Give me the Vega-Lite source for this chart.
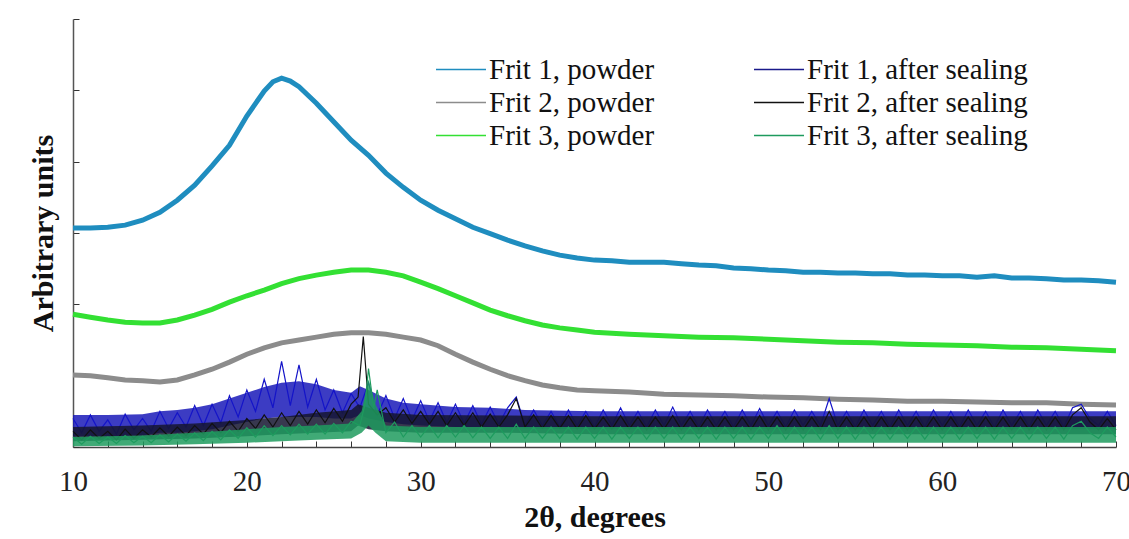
{
"$schema":"https://vega.github.io/schema/vega-lite/v6.json",
"width":1043,"height":428,
"autosize":{"type":"none"},
"padding":{"left":73,"top":19,"right":13,"bottom":92},
"background":"white",
"config":{"view":{"stroke":null},"font":"Liberation Serif",
"legend":{"orient":"none","legendX":362,"legendY":35,"columns":2,"symbolType":"stroke","symbolSize":2500,"symbolStrokeWidth":1.5,"labelFont":"Liberation Serif","labelFontSize":29,"labelColor":"#111","labelOffset":2,"columnPadding":98,"rowPadding":2,"clipHeight":31,"labelLimit":500,"title":null}},
"datasets":{
"f1p":[{"x":10,"y":3.07},{"x":11,"y":3.07},{"x":12,"y":3.08},{"x":13,"y":3.11},{"x":14,"y":3.18},{"x":15,"y":3.29},{"x":16,"y":3.46},{"x":17,"y":3.67},{"x":18,"y":3.94},{"x":19,"y":4.23},{"x":20,"y":4.64},{"x":21,"y":4.99},{"x":21.5,"y":5.12},{"x":22,"y":5.17},{"x":22.5,"y":5.13},{"x":23,"y":5.05},{"x":24,"y":4.82},{"x":25,"y":4.56},{"x":26,"y":4.3},{"x":27,"y":4.09},{"x":28,"y":3.84},{"x":29,"y":3.64},{"x":30,"y":3.46},{"x":31,"y":3.32},{"x":32,"y":3.2},{"x":33,"y":3.08},{"x":34,"y":2.99},{"x":35,"y":2.9},{"x":36,"y":2.82},{"x":37,"y":2.75},{"x":38,"y":2.69},{"x":39,"y":2.65},{"x":40,"y":2.62},{"x":41,"y":2.61},{"x":42,"y":2.59},{"x":43,"y":2.59},{"x":44,"y":2.59},{"x":45,"y":2.57},{"x":46,"y":2.55},{"x":47,"y":2.54},{"x":48,"y":2.51},{"x":49,"y":2.5},{"x":50,"y":2.48},{"x":51,"y":2.47},{"x":52,"y":2.45},{"x":53,"y":2.45},{"x":54,"y":2.44},{"x":55,"y":2.44},{"x":56,"y":2.43},{"x":57,"y":2.43},{"x":58,"y":2.41},{"x":59,"y":2.41},{"x":60,"y":2.4},{"x":61,"y":2.4},{"x":62,"y":2.38},{"x":63,"y":2.4},{"x":64,"y":2.37},{"x":65,"y":2.37},{"x":66,"y":2.36},{"x":67,"y":2.34},{"x":68,"y":2.34},{"x":69,"y":2.33},{"x":70,"y":2.31}],
"f2p":[{"x":10,"y":1.01},{"x":11,"y":1.0},{"x":12,"y":0.97},{"x":13,"y":0.94},{"x":14,"y":0.93},{"x":15,"y":0.91},{"x":16,"y":0.94},{"x":17,"y":1.01},{"x":18,"y":1.09},{"x":19,"y":1.19},{"x":20,"y":1.3},{"x":21,"y":1.39},{"x":22,"y":1.46},{"x":23,"y":1.5},{"x":24,"y":1.54},{"x":25,"y":1.58},{"x":26,"y":1.6},{"x":27,"y":1.6},{"x":28,"y":1.58},{"x":29,"y":1.54},{"x":30,"y":1.5},{"x":31,"y":1.42},{"x":32,"y":1.3},{"x":33,"y":1.19},{"x":34,"y":1.09},{"x":35,"y":1.0},{"x":36,"y":0.93},{"x":37,"y":0.87},{"x":38,"y":0.83},{"x":39,"y":0.8},{"x":40,"y":0.79},{"x":42,"y":0.77},{"x":44,"y":0.74},{"x":46,"y":0.73},{"x":48,"y":0.72},{"x":50,"y":0.7},{"x":52,"y":0.69},{"x":54,"y":0.67},{"x":56,"y":0.66},{"x":58,"y":0.64},{"x":60,"y":0.64},{"x":62,"y":0.63},{"x":64,"y":0.62},{"x":66,"y":0.62},{"x":68,"y":0.6},{"x":70,"y":0.59}],
"f3p":[{"x":10,"y":1.86},{"x":11,"y":1.82},{"x":12,"y":1.78},{"x":13,"y":1.75},{"x":14,"y":1.74},{"x":15,"y":1.74},{"x":16,"y":1.78},{"x":17,"y":1.85},{"x":18,"y":1.93},{"x":19,"y":2.03},{"x":20,"y":2.12},{"x":21,"y":2.2},{"x":22,"y":2.29},{"x":23,"y":2.36},{"x":24,"y":2.41},{"x":25,"y":2.45},{"x":26,"y":2.48},{"x":27,"y":2.48},{"x":28,"y":2.45},{"x":29,"y":2.4},{"x":30,"y":2.31},{"x":31,"y":2.22},{"x":32,"y":2.12},{"x":33,"y":2.02},{"x":34,"y":1.92},{"x":35,"y":1.84},{"x":36,"y":1.77},{"x":37,"y":1.71},{"x":38,"y":1.67},{"x":39,"y":1.64},{"x":40,"y":1.61},{"x":42,"y":1.58},{"x":44,"y":1.56},{"x":46,"y":1.54},{"x":48,"y":1.53},{"x":50,"y":1.51},{"x":52,"y":1.49},{"x":54,"y":1.47},{"x":56,"y":1.46},{"x":58,"y":1.44},{"x":60,"y":1.43},{"x":62,"y":1.42},{"x":64,"y":1.4},{"x":66,"y":1.39},{"x":68,"y":1.37},{"x":70,"y":1.35}],
"b1":[{"x":10,"lo":0.15,"hi":0.45},{"x":12,"lo":0.15,"hi":0.45},{"x":14,"lo":0.16,"hi":0.46},{"x":15,"lo":0.2,"hi":0.5},{"x":16,"lo":0.2,"hi":0.52},{"x":17,"lo":0.22,"hi":0.55},{"x":18,"lo":0.25,"hi":0.6},{"x":19,"lo":0.3,"hi":0.68},{"x":20,"lo":0.35,"hi":0.76},{"x":21,"lo":0.4,"hi":0.84},{"x":22,"lo":0.42,"hi":0.9},{"x":23,"lo":0.42,"hi":0.92},{"x":24,"lo":0.42,"hi":0.88},{"x":25,"lo":0.4,"hi":0.8},{"x":26,"lo":0.4,"hi":0.76},{"x":26.5,"lo":0.45,"hi":0.85},{"x":27,"lo":0.4,"hi":0.8},{"x":28,"lo":0.35,"hi":0.68},{"x":29,"lo":0.32,"hi":0.62},{"x":30,"lo":0.3,"hi":0.6},{"x":32,"lo":0.28,"hi":0.56},{"x":34,"lo":0.28,"hi":0.55},{"x":36,"lo":0.26,"hi":0.52},{"x":40,"lo":0.25,"hi":0.5},{"x":50,"lo":0.25,"hi":0.5},{"x":60,"lo":0.25,"hi":0.5},{"x":70,"lo":0.25,"hi":0.5}],
"b2":[{"x":10,"lo":0.08,"hi":0.28},{"x":14,"lo":0.1,"hi":0.3},{"x":17,"lo":0.12,"hi":0.33},{"x":20,"lo":0.15,"hi":0.38},{"x":22,"lo":0.18,"hi":0.42},{"x":24,"lo":0.2,"hi":0.48},{"x":26,"lo":0.22,"hi":0.52},{"x":26.4,"lo":0.3,"hi":0.6},{"x":27,"lo":0.25,"hi":0.55},{"x":28,"lo":0.22,"hi":0.48},{"x":30,"lo":0.2,"hi":0.45},{"x":35,"lo":0.2,"hi":0.44},{"x":40,"lo":0.18,"hi":0.43},{"x":70,"lo":0.18,"hi":0.43}],
"b3":[{"x":10,"lo":0.01,"hi":0.14},{"x":14,"lo":0.02,"hi":0.16},{"x":17,"lo":0.04,"hi":0.2},{"x":20,"lo":0.06,"hi":0.25},{"x":22,"lo":0.08,"hi":0.28},{"x":24,"lo":0.1,"hi":0.3},{"x":26,"lo":0.12,"hi":0.33},{"x":26.6,"lo":0.2,"hi":0.5},{"x":27,"lo":0.3,"hi":0.95},{"x":27.4,"lo":0.2,"hi":0.6},{"x":28,"lo":0.08,"hi":0.3},{"x":30,"lo":0.06,"hi":0.28},{"x":70,"lo":0.06,"hi":0.28}],
"f1s":[{"x":10,"y":0.4},{"x":10.5,"y":0.2},{"x":11,"y":0.45},{"x":11.5,"y":0.22},{"x":12,"y":0.38},{"x":12.5,"y":0.18},{"x":13,"y":0.46},{"x":13.5,"y":0.24},{"x":14,"y":0.4},{"x":14.5,"y":0.22},{"x":15,"y":0.5},{"x":15.5,"y":0.26},{"x":16,"y":0.48},{"x":16.5,"y":0.28},{"x":17,"y":0.58},{"x":17.5,"y":0.3},{"x":18,"y":0.6},{"x":18.5,"y":0.34},{"x":19,"y":0.72},{"x":19.5,"y":0.42},{"x":20,"y":0.8},{"x":20.5,"y":0.5},{"x":21,"y":0.95},{"x":21.5,"y":0.55},{"x":22,"y":1.2},{"x":22.5,"y":0.58},{"x":23,"y":1.15},{"x":23.5,"y":0.56},{"x":24,"y":0.95},{"x":24.5,"y":0.52},{"x":25,"y":0.8},{"x":25.5,"y":0.48},{"x":26,"y":0.75},{"x":26.5,"y":0.55},{"x":27,"y":0.9},{"x":27.5,"y":0.45},{"x":28,"y":0.72},{"x":28.5,"y":0.4},{"x":29,"y":0.68},{"x":29.5,"y":0.38},{"x":30,"y":0.65},{"x":30.5,"y":0.36},{"x":31,"y":0.62},{"x":31.5,"y":0.34},{"x":32,"y":0.6},{"x":32.5,"y":0.33},{"x":33,"y":0.58},{"x":33.5,"y":0.32},{"x":34,"y":0.56},{"x":34.5,"y":0.32},{"x":35,"y":0.55},{"x":35.5,"y":0.7},{"x":36,"y":0.3},{"x":36.5,"y":0.52},{"x":37,"y":0.3},{"x":37.5,"y":0.5},{"x":38,"y":0.28},{"x":38.5,"y":0.52},{"x":39,"y":0.3},{"x":39.5,"y":0.5},{"x":40,"y":0.28},{"x":40.5,"y":0.52},{"x":41,"y":0.3},{"x":41.5,"y":0.55},{"x":42,"y":0.3},{"x":42.5,"y":0.5},{"x":43,"y":0.28},{"x":43.5,"y":0.52},{"x":44,"y":0.3},{"x":44.5,"y":0.56},{"x":45,"y":0.3},{"x":45.5,"y":0.5},{"x":46,"y":0.28},{"x":46.5,"y":0.52},{"x":47,"y":0.3},{"x":47.5,"y":0.5},{"x":48,"y":0.28},{"x":48.5,"y":0.52},{"x":49,"y":0.3},{"x":49.5,"y":0.54},{"x":50,"y":0.3},{"x":50.5,"y":0.5},{"x":51,"y":0.28},{"x":51.5,"y":0.52},{"x":52,"y":0.3},{"x":52.5,"y":0.5},{"x":53,"y":0.3},{"x":53.5,"y":0.68},{"x":54,"y":0.3},{"x":54.5,"y":0.5},{"x":55,"y":0.28},{"x":55.5,"y":0.52},{"x":56,"y":0.3},{"x":56.5,"y":0.5},{"x":57,"y":0.28},{"x":57.5,"y":0.52},{"x":58,"y":0.3},{"x":58.5,"y":0.5},{"x":59,"y":0.28},{"x":59.5,"y":0.52},{"x":60,"y":0.3},{"x":60.5,"y":0.5},{"x":61,"y":0.28},{"x":61.5,"y":0.52},{"x":62,"y":0.3},{"x":62.5,"y":0.5},{"x":63,"y":0.28},{"x":63.5,"y":0.52},{"x":64,"y":0.3},{"x":64.5,"y":0.5},{"x":65,"y":0.28},{"x":65.5,"y":0.52},{"x":66,"y":0.3},{"x":66.5,"y":0.5},{"x":67,"y":0.28},{"x":67.5,"y":0.55},{"x":68,"y":0.6},{"x":68.5,"y":0.4},{"x":69,"y":0.3},{"x":69.5,"y":0.5},{"x":70,"y":0.3}],
"f2s":[{"x":10,"y":0.22},{"x":10.5,"y":0.1},{"x":11,"y":0.24},{"x":11.5,"y":0.12},{"x":12,"y":0.22},{"x":12.5,"y":0.1},{"x":13,"y":0.25},{"x":13.5,"y":0.12},{"x":14,"y":0.24},{"x":14.5,"y":0.14},{"x":15,"y":0.27},{"x":15.5,"y":0.15},{"x":16,"y":0.28},{"x":16.5,"y":0.16},{"x":17,"y":0.3},{"x":17.5,"y":0.18},{"x":18,"y":0.33},{"x":18.5,"y":0.2},{"x":19,"y":0.36},{"x":19.5,"y":0.22},{"x":20,"y":0.4},{"x":20.5,"y":0.26},{"x":21,"y":0.45},{"x":21.5,"y":0.28},{"x":22,"y":0.48},{"x":22.5,"y":0.3},{"x":23,"y":0.5},{"x":23.5,"y":0.32},{"x":24,"y":0.52},{"x":24.5,"y":0.34},{"x":25,"y":0.54},{"x":25.5,"y":0.36},{"x":26,"y":0.6},{"x":26.4,"y":0.7},{"x":26.7,"y":1.55},{"x":27,"y":0.6},{"x":27.5,"y":0.45},{"x":28,"y":0.55},{"x":28.5,"y":0.35},{"x":29,"y":0.52},{"x":29.5,"y":0.33},{"x":30,"y":0.5},{"x":30.5,"y":0.32},{"x":31,"y":0.5},{"x":31.5,"y":0.3},{"x":32,"y":0.48},{"x":32.5,"y":0.3},{"x":33,"y":0.48},{"x":33.5,"y":0.28},{"x":34,"y":0.46},{"x":34.5,"y":0.28},{"x":35,"y":0.45},{"x":35.5,"y":0.68},{"x":36,"y":0.28},{"x":36.5,"y":0.45},{"x":37,"y":0.26},{"x":37.5,"y":0.44},{"x":38,"y":0.26},{"x":38.5,"y":0.44},{"x":39,"y":0.25},{"x":39.5,"y":0.44},{"x":40,"y":0.25},{"x":40.5,"y":0.42},{"x":41,"y":0.25},{"x":41.5,"y":0.44},{"x":42,"y":0.25},{"x":42.5,"y":0.42},{"x":43,"y":0.24},{"x":43.5,"y":0.42},{"x":44,"y":0.25},{"x":44.5,"y":0.44},{"x":45,"y":0.24},{"x":45.5,"y":0.42},{"x":46,"y":0.24},{"x":46.5,"y":0.42},{"x":47,"y":0.24},{"x":47.5,"y":0.42},{"x":48,"y":0.24},{"x":48.5,"y":0.42},{"x":49,"y":0.24},{"x":49.5,"y":0.44},{"x":50,"y":0.24},{"x":50.5,"y":0.42},{"x":51,"y":0.24},{"x":51.5,"y":0.42},{"x":52,"y":0.24},{"x":52.5,"y":0.42},{"x":53,"y":0.24},{"x":53.5,"y":0.5},{"x":54,"y":0.24},{"x":54.5,"y":0.42},{"x":55,"y":0.24},{"x":55.5,"y":0.42},{"x":56,"y":0.24},{"x":56.5,"y":0.42},{"x":57,"y":0.24},{"x":57.5,"y":0.42},{"x":58,"y":0.24},{"x":58.5,"y":0.42},{"x":59,"y":0.24},{"x":59.5,"y":0.42},{"x":60,"y":0.24},{"x":60.5,"y":0.42},{"x":61,"y":0.24},{"x":61.5,"y":0.42},{"x":62,"y":0.24},{"x":62.5,"y":0.42},{"x":63,"y":0.24},{"x":63.5,"y":0.42},{"x":64,"y":0.24},{"x":64.5,"y":0.42},{"x":65,"y":0.24},{"x":65.5,"y":0.42},{"x":66,"y":0.24},{"x":66.5,"y":0.42},{"x":67,"y":0.24},{"x":67.5,"y":0.45},{"x":68,"y":0.55},{"x":68.5,"y":0.35},{"x":69,"y":0.24},{"x":69.5,"y":0.4},{"x":70,"y":0.24}],
"f3s":[{"x":10,"y":0.14},{"x":10.5,"y":0.04},{"x":11,"y":0.15},{"x":11.5,"y":0.05},{"x":12,"y":0.14},{"x":12.5,"y":0.05},{"x":13,"y":0.16},{"x":13.5,"y":0.06},{"x":14,"y":0.15},{"x":14.5,"y":0.06},{"x":15,"y":0.17},{"x":15.5,"y":0.07},{"x":16,"y":0.18},{"x":16.5,"y":0.08},{"x":17,"y":0.2},{"x":17.5,"y":0.09},{"x":18,"y":0.22},{"x":18.5,"y":0.1},{"x":19,"y":0.24},{"x":19.5,"y":0.12},{"x":20,"y":0.27},{"x":20.5,"y":0.14},{"x":21,"y":0.3},{"x":21.5,"y":0.16},{"x":22,"y":0.3},{"x":22.5,"y":0.17},{"x":23,"y":0.32},{"x":23.5,"y":0.18},{"x":24,"y":0.32},{"x":24.5,"y":0.18},{"x":25,"y":0.33},{"x":25.5,"y":0.2},{"x":26,"y":0.36},{"x":26.5,"y":0.3},{"x":26.8,"y":0.6},{"x":27,"y":1.1},{"x":27.3,"y":0.55},{"x":27.5,"y":0.8},{"x":28,"y":0.2},{"x":28.5,"y":0.35},{"x":29,"y":0.14},{"x":29.5,"y":0.3},{"x":30,"y":0.14},{"x":30.5,"y":0.3},{"x":31,"y":0.13},{"x":31.5,"y":0.3},{"x":32,"y":0.14},{"x":32.5,"y":0.3},{"x":33,"y":0.13},{"x":33.5,"y":0.28},{"x":34,"y":0.12},{"x":34.5,"y":0.28},{"x":35,"y":0.12},{"x":35.5,"y":0.32},{"x":36,"y":0.12},{"x":36.5,"y":0.28},{"x":37,"y":0.12},{"x":37.5,"y":0.28},{"x":38,"y":0.12},{"x":38.5,"y":0.28},{"x":39,"y":0.11},{"x":39.5,"y":0.28},{"x":40,"y":0.12},{"x":40.5,"y":0.28},{"x":41,"y":0.11},{"x":41.5,"y":0.28},{"x":42,"y":0.12},{"x":42.5,"y":0.28},{"x":43,"y":0.11},{"x":43.5,"y":0.28},{"x":44,"y":0.12},{"x":44.5,"y":0.28},{"x":45,"y":0.11},{"x":45.5,"y":0.28},{"x":46,"y":0.12},{"x":46.5,"y":0.28},{"x":47,"y":0.11},{"x":47.5,"y":0.28},{"x":48,"y":0.12},{"x":48.5,"y":0.28},{"x":49,"y":0.11},{"x":49.5,"y":0.28},{"x":50,"y":0.12},{"x":50.5,"y":0.3},{"x":51,"y":0.11},{"x":51.5,"y":0.28},{"x":52,"y":0.12},{"x":52.5,"y":0.28},{"x":53,"y":0.11},{"x":53.5,"y":0.3},{"x":54,"y":0.12},{"x":54.5,"y":0.28},{"x":55,"y":0.11},{"x":55.5,"y":0.28},{"x":56,"y":0.12},{"x":56.5,"y":0.28},{"x":57,"y":0.11},{"x":57.5,"y":0.28},{"x":58,"y":0.12},{"x":58.5,"y":0.28},{"x":59,"y":0.11},{"x":59.5,"y":0.28},{"x":60,"y":0.12},{"x":60.5,"y":0.28},{"x":61,"y":0.11},{"x":61.5,"y":0.28},{"x":62,"y":0.12},{"x":62.5,"y":0.28},{"x":63,"y":0.11},{"x":63.5,"y":0.28},{"x":64,"y":0.12},{"x":64.5,"y":0.28},{"x":65,"y":0.11},{"x":65.5,"y":0.28},{"x":66,"y":0.12},{"x":66.5,"y":0.28},{"x":67,"y":0.11},{"x":67.5,"y":0.3},{"x":68,"y":0.36},{"x":68.5,"y":0.2},{"x":69,"y":0.12},{"x":69.5,"y":0.28},{"x":70,"y":0.14}]
},
"encoding":{
"x":{"field":"x","type":"quantitative","scale":{"domain":[10,70],"nice":false,"zero":false},
"axis":{"title":"2θ,  degrees","values":[10,12,14,16,18,20,22,24,26,28,30,32,34,36,38,40,42,44,46,48,50,52,54,56,58,60,62,64,66,68,70],"labelExpr":"datum.value % 10 === 0 ? datum.label : ''","grid":false,"tickSize":-6,"tickColor":"#333","domainColor":"#444","domainWidth":1.5,"labelFont":"Liberation Serif","labelFontSize":29,"labelColor":"#222","labelPadding":26,"labelFlush":false,"titleFont":"Liberation Serif","titleFontSize":30,"titleFontWeight":"bold","titleColor":"#111","titlePadding":6}},
"y":{"field":"y","type":"quantitative","scale":{"domain":[0,6],"nice":false,"zero":false},
"axis":{"title":"Arbitrary units","values":[0,1,2,3,4,5,6],"labels":false,"grid":false,"tickSize":-6,"tickColor":"#333","domainColor":"#555","domainWidth":1.5,"titleFont":"Liberation Serif","titleFontSize":30,"titleFontWeight":"bold","titleColor":"#111","titlePadding":14}}
},
"layer":[
{"data":{"name":"f1p"},"mark":{"type":"line","strokeWidth":5},"encoding":{"color":{"datum":"Frit 1, powder","type":"nominal","scale":{"domain":["Frit 1, powder","Frit 2, powder","Frit 3, powder","Frit 1, after sealing","Frit 2, after sealing","Frit 3, after sealing"],"range":["#1f8dbf","#8c8c8c","#33e033","#1a1a8a","#111111","#1e9b5e"]}}}},
{"data":{"name":"f2p"},"mark":{"type":"line","strokeWidth":5},"encoding":{"color":{"datum":"Frit 2, powder","type":"nominal"}}},
{"data":{"name":"f3p"},"mark":{"type":"line","strokeWidth":5},"encoding":{"color":{"datum":"Frit 3, powder","type":"nominal"}}},
{"data":{"name":"b1"},"mark":{"type":"area","fill":"#1a1ab8","opacity":0.85},"encoding":{"y":{"field":"lo","type":"quantitative"},"y2":{"field":"hi"}}},
{"data":{"name":"f1s"},"mark":{"type":"line","strokeWidth":1.2,"stroke":"#1414c8"},"encoding":{"color":{"datum":"Frit 1, after sealing","type":"nominal"}}},
{"data":{"name":"b2"},"mark":{"type":"area","fill":"#151530","opacity":0.85},"encoding":{"y":{"field":"lo","type":"quantitative"},"y2":{"field":"hi"}}},
{"data":{"name":"f2s"},"mark":{"type":"line","strokeWidth":1.2},"encoding":{"color":{"datum":"Frit 2, after sealing","type":"nominal"}}},
{"data":{"name":"b3"},"mark":{"type":"area","fill":"#1e9b5e","opacity":0.85},"encoding":{"y":{"field":"lo","type":"quantitative"},"y2":{"field":"hi"}}},
{"data":{"name":"f3s"},"mark":{"type":"line","strokeWidth":1.2},"encoding":{"color":{"datum":"Frit 3, after sealing","type":"nominal"}}}
]
}
